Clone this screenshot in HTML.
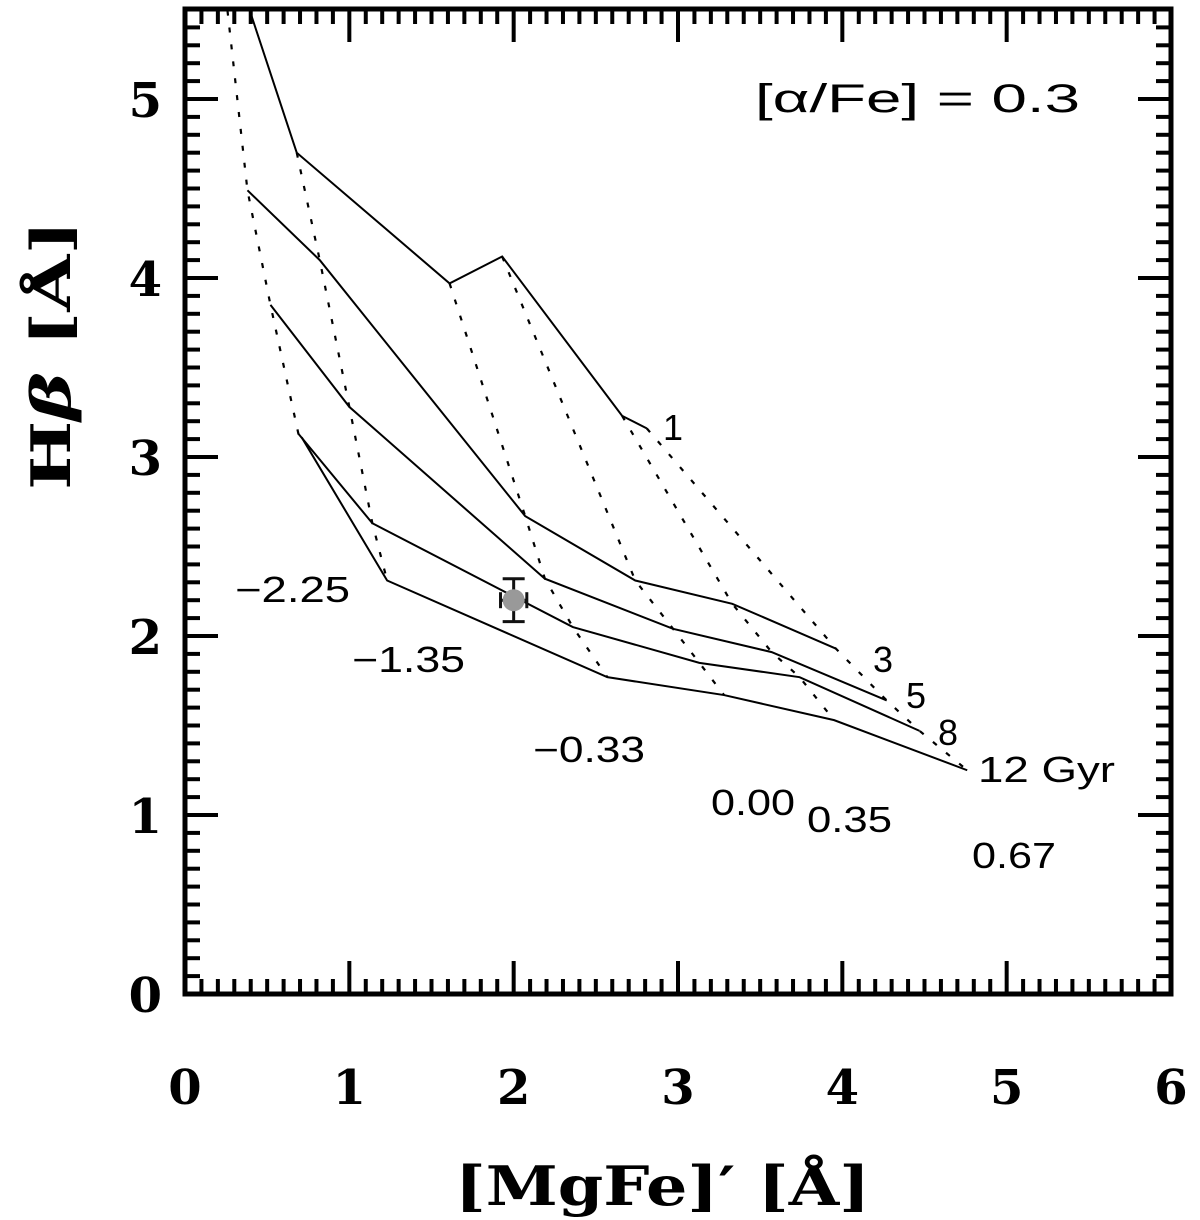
<!DOCTYPE html>
<html><head><meta charset="utf-8"><style>
html,body{margin:0;padding:0;background:#fff;width:1200px;height:1220px;overflow:hidden}
svg{display:block}
.tk{font-family:"DejaVu Serif","Liberation Serif",serif;font-size:48px;font-weight:bold;fill:#000}
.lb{font-family:"Liberation Sans",sans-serif;font-size:36px;fill:#000}
</style></head><body>
<svg id="chart" width="1200" height="1220" viewBox="0 0 1200 1220" xmlns="http://www.w3.org/2000/svg"></svg>
<script>
const ages = ["1","3","5","8","12"];
const metallicities = ["-2.25","-1.35","-0.33","0.00","0.35","0.67"];
const age1X = [0.19,0.68,1.61,1.93,2.66,2.81];
const age1Y = [6.06,4.70,3.97,4.12,3.23,3.16];
const age3X = [0.38,0.82,2.07,2.74,3.33,3.96];
const age3Y = [4.49,4.10,2.67,2.31,2.18,1.93];
const age5X = [0.52,1.00,2.19,2.97,3.57,4.27];
const age5Y = [3.85,3.28,2.32,2.04,1.91,1.64];
const age8X = [0.69,1.14,2.36,3.13,3.74,4.47];
const age8Y = [3.13,2.63,2.05,1.85,1.77,1.47];
const age12X = [0.71,1.23,2.57,3.28,3.95,4.76];
const age12Y = [3.11,2.31,1.77,1.67,1.53,1.25];
const obsX = [2.00], obsY = [2.20], obsErrX = [0.08], obsErrY = [0.12];
const xTicks = [0,1,2,3,4,5,6];
const yTicks = [0,1,2,3,4,5];

const L=185, R=1171, B=994, T=9;
const X = v => L + v*(R-L)/6;
const Y = v => B - v*179;
const ns="http://www.w3.org/2000/svg";
const svg=document.getElementById('chart');
function mk(t,a,p){const e=document.createElementNS(ns,t);for(const k in a)e.setAttribute(k,a[k]);(p||svg).appendChild(e);return e;}

const defs=mk('defs',{});
const cp=mk('clipPath',{id:'clip'},defs);
mk('rect',{x:L,y:T,width:R-L,height:B-T},cp);
const plot=mk('g',{'clip-path':'url(#clip)'});



const AX=[age1X,age3X,age5X,age8X,age12X], AY=[age1Y,age3Y,age5Y,age8Y,age12Y];
metallicities.forEach((m,j)=>{
  const pts=AX.map((xs,i)=>X(xs[j])+','+Y(AY[i][j])).join(' ');
  const e=mk('polyline',{points:pts,fill:'none',stroke:'#000','stroke-width':2.2,'stroke-dasharray':'5,12'},plot);
  
  
});
ages.forEach((a,i)=>{
  const pts=AX[i].map((x,j)=>X(x)+','+Y(AY[i][j])).join(' ');
  const e=mk('polyline',{points:pts,fill:'none',stroke:'#000','stroke-width':2},plot);
  
  
});
obsX.forEach((ox,i)=>{
  const g=mk('g',{},plot);
  
  
  const cx=X(ox), cy=Y(obsY[i]), x1=X(ox-obsErrX[i]), x2=X(ox+obsErrX[i]), y1=Y(obsY[i]+obsErrY[i]), y2=Y(obsY[i]-obsErrY[i]);
  mk('line',{x1:x1,y1:cy,x2:x2,y2:cy,stroke:'#111','stroke-width':3},g);
  mk('line',{x1:x1,y1:cy-8,x2:x1,y2:cy+8,stroke:'#111','stroke-width':3},g);
  mk('line',{x1:x2,y1:cy-8,x2:x2,y2:cy+8,stroke:'#111','stroke-width':3},g);
  mk('line',{x1:cx,y1:y1,x2:cx,y2:y2,stroke:'#111','stroke-width':3},g);
  mk('line',{x1:cx-11,y1:y1,x2:cx+11,y2:y1,stroke:'#111','stroke-width':3},g);
  mk('line',{x1:cx-11,y1:y2,x2:cx+11,y2:y2,stroke:'#111','stroke-width':3},g);
  mk('circle',{cx:cx,cy:cy,r:11,fill:'#999'},g);
});

const fr=mk('rect',{x:L,y:T,width:R-L,height:B-T,fill:'none',stroke:'#000','stroke-width':5});


const tg=mk('g',{stroke:'#000','stroke-width':4});


for(let k=0;k<=60;k++){const v=k/10,x=X(v),len=k%10===0?33:15;
  mk('line',{x1:x,y1:B,x2:x,y2:B-len},tg);mk('line',{x1:x,y1:T,x2:x,y2:T+len},tg);}
for(let k=0;k<=55;k++){const v=k/10,y=Y(v),len=k%10===0?33:15;
  mk('line',{x1:L,y1:y,x2:L+len,y2:y},tg);mk('line',{x1:R,y1:y,x2:R-len,y2:y},tg);}
xTicks.forEach(v=>{const t=mk('text',{x:X(v),y:1104,'text-anchor':'middle',class:'tk'});t.textContent=v;
  
  });
yTicks.forEach(v=>{const t=mk('text',{x:162,y:Y(v)+18,'text-anchor':'end',class:'tk'});t.textContent=v;
  
  });
</script>
<svg style="position:absolute;left:0;top:0" width="1200" height="1220" xmlns="http://www.w3.org/2000/svg">
<text x="755" y="112" textLength="325" lengthAdjust="spacingAndGlyphs" style="font-family:'Liberation Sans',sans-serif;font-size:40px">[α/Fe] = 0.3</text>
<text class="lb" x="663" y="440">1</text>
<text class="lb" x="873" y="672">3</text>
<text class="lb" x="906" y="708">5</text>
<text class="lb" x="938" y="745">8</text>
<text class="lb" x="978" y="782" textLength="137" lengthAdjust="spacingAndGlyphs">12 Gyr</text>
<text class="lb" x="235" y="602" textLength="115" lengthAdjust="spacingAndGlyphs">−2.25</text>
<text class="lb" x="352" y="672" textLength="113" lengthAdjust="spacingAndGlyphs">−1.35</text>
<text class="lb" x="533" y="762" textLength="112" lengthAdjust="spacingAndGlyphs">−0.33</text>
<text class="lb" x="711" y="815" textLength="84" lengthAdjust="spacingAndGlyphs">0.00</text>
<text class="lb" x="807" y="832" textLength="85" lengthAdjust="spacingAndGlyphs">0.35</text>
<text class="lb" x="972" y="868" textLength="84" lengthAdjust="spacingAndGlyphs">0.67</text>
<text x="455" y="1205" textLength="415" lengthAdjust="spacingAndGlyphs" style="font-family:'DejaVu Serif','Liberation Serif',serif;font-size:54px;font-weight:bold">[MgFe]′  [Å]</text>
<text transform="translate(70,490) rotate(-90)" textLength="270" lengthAdjust="spacingAndGlyphs" style="font-family:'DejaVu Serif','Liberation Serif',serif;font-size:54px;font-weight:bold">H<tspan font-style="italic">β</tspan> [Å]</text>
</svg>
</body></html>
